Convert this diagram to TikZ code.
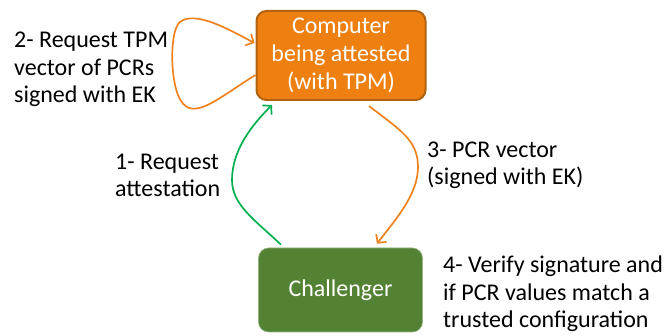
\documentclass[tikz,border=0pt]{standalone}
\usepackage{fontspec}
\setmainfont{Carlito}
\usetikzlibrary{arrows.meta}

\definecolor{boxorange}{RGB}{238,128,17}
\definecolor{boxorangeedge}{RGB}{176,98,14}
\definecolor{boxgreen}{RGB}{84,130,53}
\definecolor{boxgreenedge}{RGB}{150,180,130}
\definecolor{arroworange}{RGB}{240,130,30}
\definecolor{arrowgreen}{RGB}{0,176,80}

\tikzset{
  x=1pt, y=-1pt,
  party/.style={rounded corners=10pt, inner sep=0pt, align=center,
    text=white, font=\fontsize{24}{28}\selectfont},
  note/.style={inner sep=0pt, align=left, anchor=base west,
    font=\fontsize{24}{27.7}\selectfont},
  flow/.style={line width=1.7pt, -{Straight Barb[length=6pt,width=13pt,line width=1.7pt]}},
}

\begin{document}
\begin{tikzpicture}
\useasboundingbox (0,0) rectangle (665,336);

% the two parties
\node[party, fill=boxorange, draw=boxorangeedge, line width=2pt,
      minimum width=169pt, minimum height=89pt] (comp) at (341,55.5)
  {Computer\\being attested\\(with TPM)};
\node[party, fill=boxgreen, draw=boxgreenedge, line width=0.6pt,
      minimum width=164pt, minimum height=84pt] (chal) at (340.5,290)
  {Challenger};

% step labels (anchored at the baseline of their last line)
\node[note] (lab2) at (14,103) {2- Request TPM\\vector of PCRs\\signed with EK};
\node[note] (lab1) at (115,197) {1- Request\\attestation};
\node[note] (lab3) at (427,185) {3- PCR vector\\(signed with EK)};
\node[note] (lab4) at (443,328) {4- Verify signature and\\if PCR values match a\\trusted configuration};

% 1: challenger asks for attestation
\draw[flow, arrowgreen] ([xshift=-59.5pt,yshift=3pt]chal.north)
  .. controls (255,220) and (232,205) .. (232,180)
  .. controls (232,150) and (252,125) .. ([xshift=-69pt,yshift=-4pt]comp.south);

% 2: the computer queries its own TPM
\draw[flow, arroworange] ([yshift=-19.5pt]comp.west)
  .. controls (215,100) and (190,125) .. (178,95)
  .. controls (170,75) and (170,30) .. (180,22)
  .. controls (195,10) and (230,30) .. ([yshift=12.5pt,xshift=-1pt]comp.west);

% 3: signed PCR vector back to the challenger
\draw[flow, arroworange] ([xshift=28pt,yshift=-5pt]comp.south)
  .. controls (400,130) and (418,140) .. (418,167)
  .. controls (418,195) and (395,220) .. ([xshift=36.5pt,yshift=4pt]chal.north);
\end{tikzpicture}
\end{document}
